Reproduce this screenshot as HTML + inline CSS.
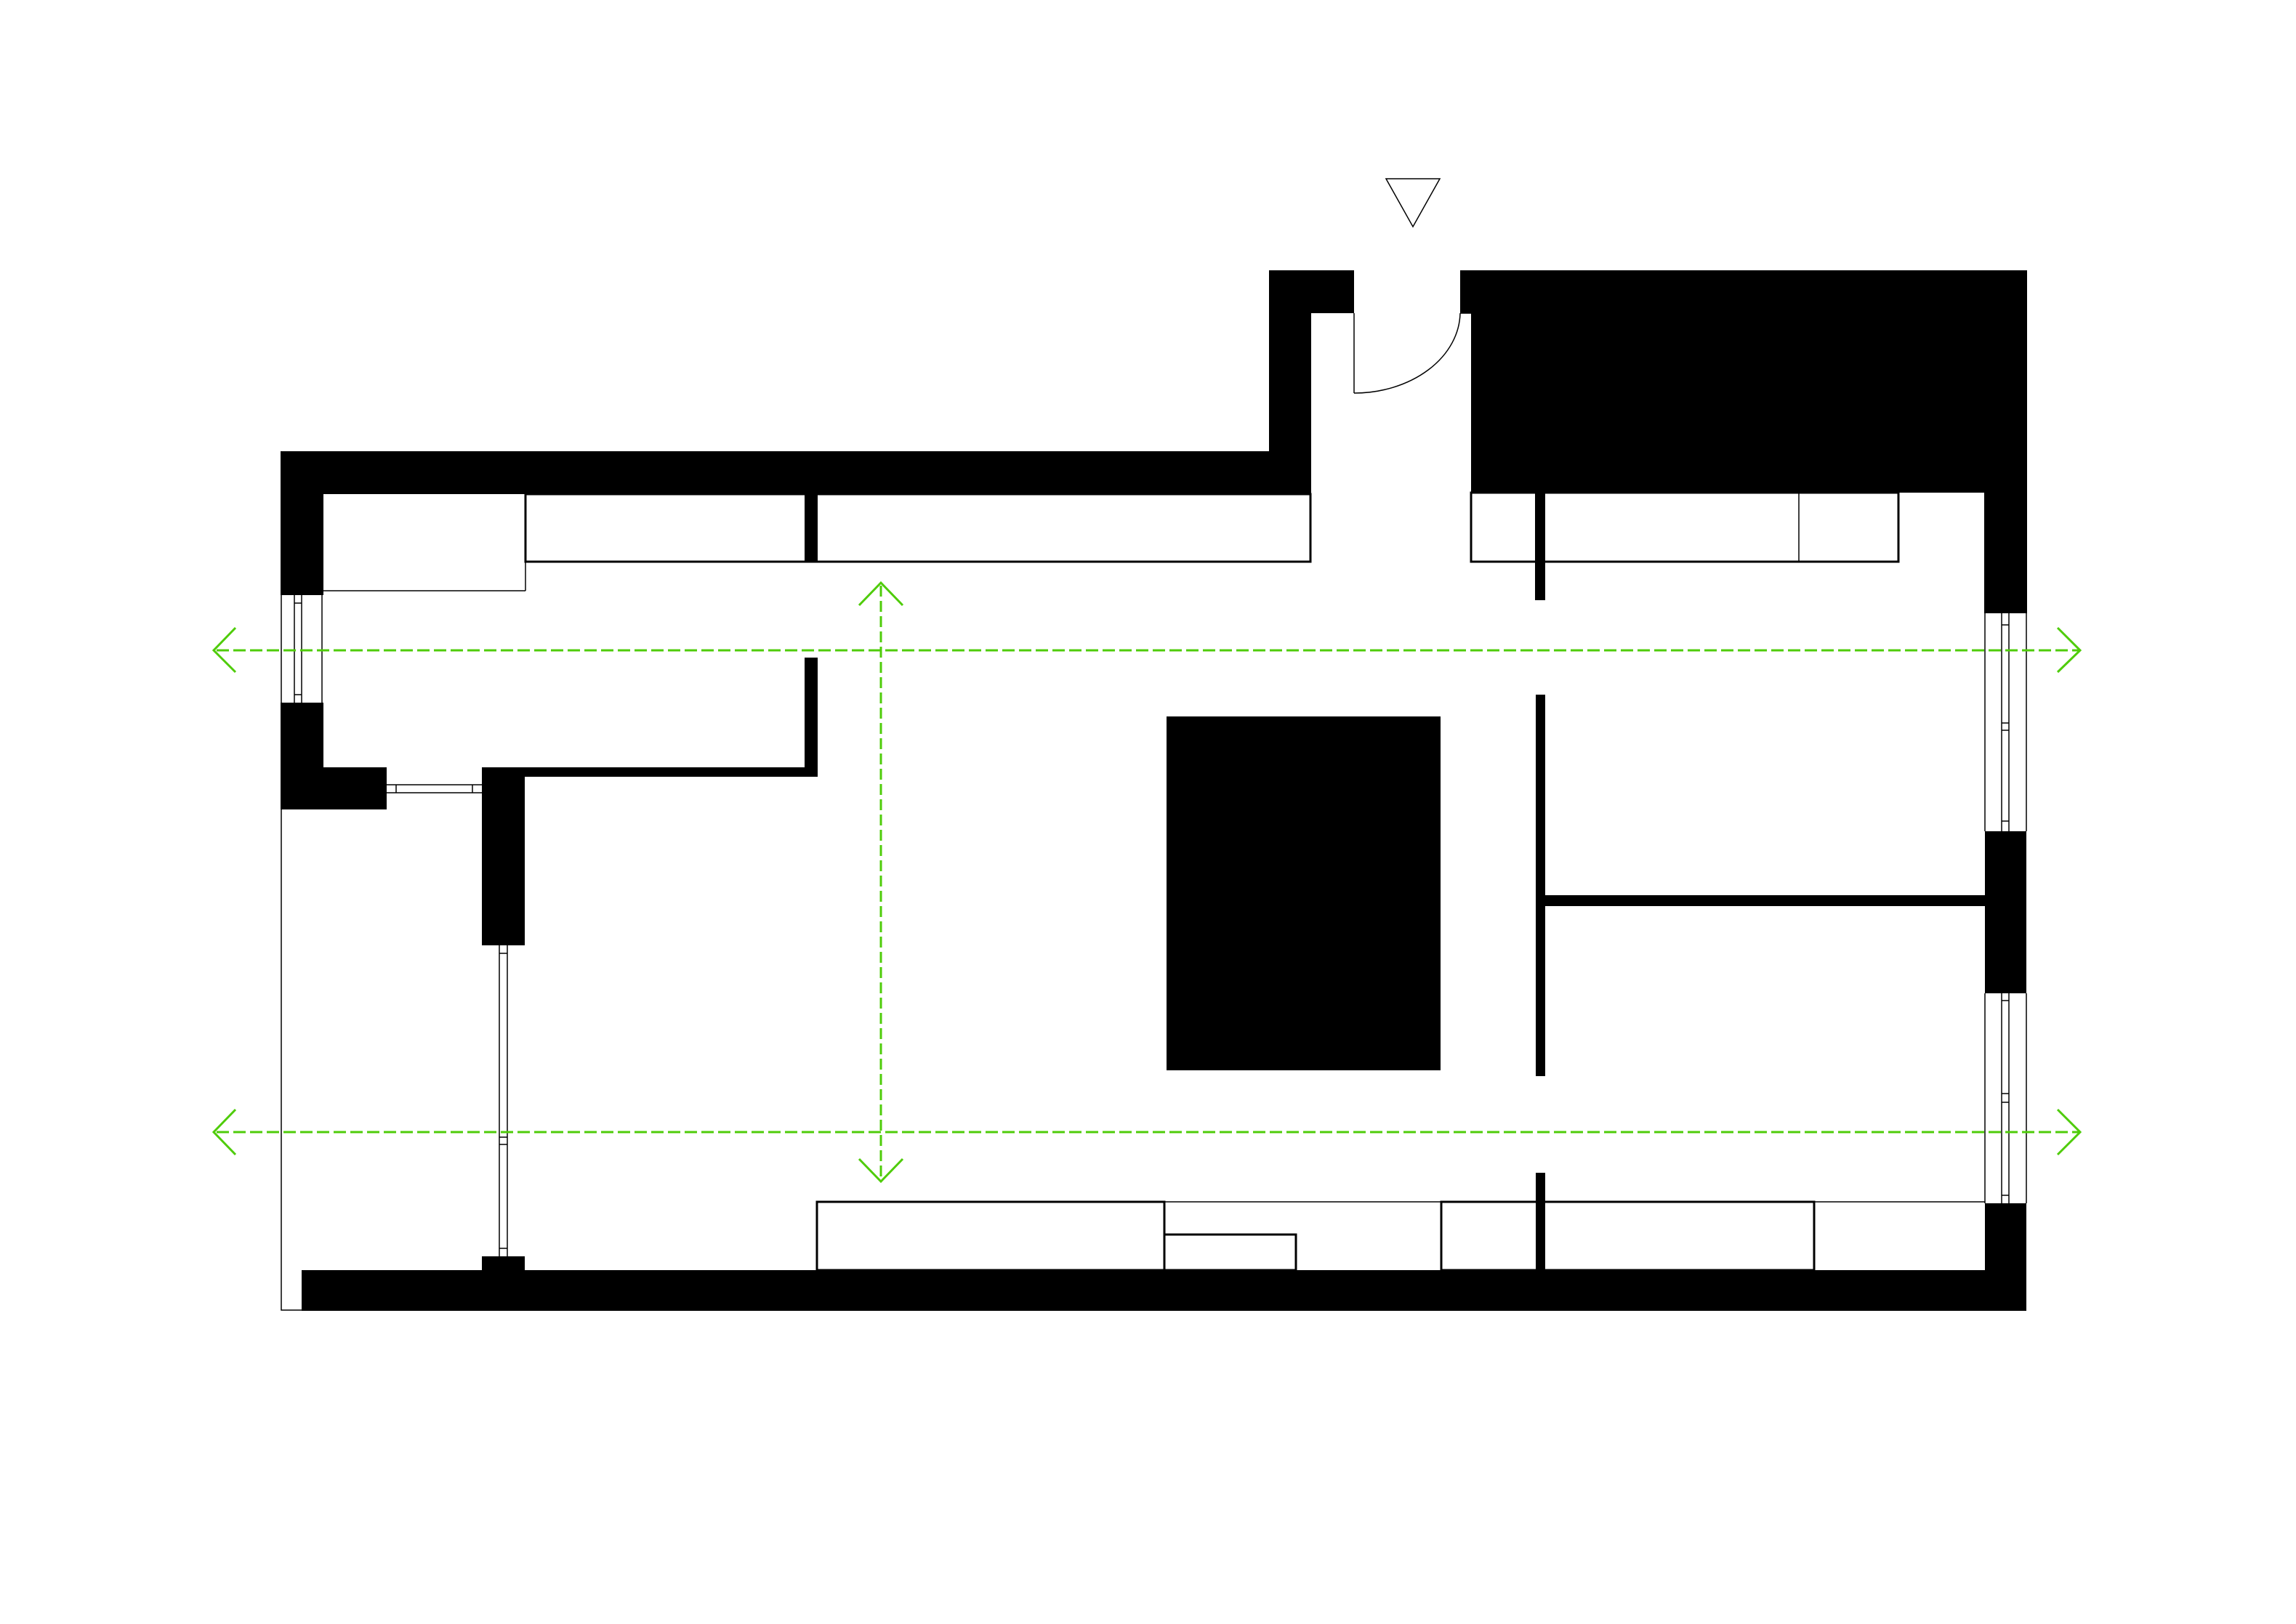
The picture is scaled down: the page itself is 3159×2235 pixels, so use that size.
<!DOCTYPE html>
<html><head><meta charset="utf-8"><style>
html,body{margin:0;padding:0;background:#fff;}
svg{display:block;}
</style></head><body>
<svg width="3159" height="2235" viewBox="0 0 3159 2235" xmlns="http://www.w3.org/2000/svg">
<rect width="3159" height="2235" fill="#fff"/>
<g fill="#000">
<!-- top wall left part -->
<rect x="386" y="621" width="1418" height="59"/>
<rect x="386" y="621" width="59" height="198"/>
<rect x="1746" y="372" width="58" height="308"/>
<rect x="1746" y="372" width="117" height="59"/>
<!-- left wall lower -->
<rect x="386" y="967" width="59" height="147"/>
<rect x="386" y="1056" width="146" height="58"/>
<!-- inner wall -->
<rect x="663" y="1056" width="59" height="245"/>
<rect x="663" y="1056" width="462" height="13"/>
<rect x="1107" y="905" width="18" height="164"/>
<rect x="1107" y="680" width="18" height="94"/>
<rect x="663" y="1729" width="59" height="25"/>
<!-- right top block -->
<rect x="2009" y="372" width="780" height="59"/>
<rect x="2024" y="372" width="765" height="306"/>
<rect x="2730" y="372" width="59" height="472"/>
<rect x="2731" y="1144" width="57" height="223"/>
<rect x="2731" y="1656" width="57" height="148"/>
<!-- bottom wall -->
<rect x="415" y="1748" width="2373" height="56"/>
<!-- central block -->
<rect x="1605" y="986" width="377" height="487"/>
<!-- partitions -->
<rect x="2112" y="678" width="14" height="148"/>
<rect x="2113" y="956" width="13" height="525"/>
<rect x="2126" y="1232" width="605" height="15"/>
<rect x="2113" y="1614" width="13" height="134"/>
</g>
<g fill="none" stroke="#000">
<!-- cabinets top -->
<rect x="723" y="680" width="1080" height="93" stroke-width="3"/>
<path d="M445 813 H723" stroke-width="1.5"/>
<path d="M723 680 V813" stroke-width="1.5"/>
<rect x="2024" y="678" width="588" height="95" stroke-width="3"/>
<path d="M2475 678 V773" stroke-width="1.5"/>
<!-- left window -->
<path d="M387 819 V967 M443 819 V967 M405 819 V967 M415 819 V967 M405 830 H415 M405 956 H415" stroke-width="1.5"/>
<!-- left outer thin line -->
<path d="M387 1114 V1803 H415" stroke-width="1.5"/>
<!-- horizontal window -->
<path d="M532 1080 H663 M532 1091 H663 M545 1080 V1091 M650 1080 V1091" stroke-width="1.5"/>
<!-- vertical window -->
<path d="M687 1301 V1729 M698 1301 V1729 M687 1312 H698 M687 1565 H698 M687 1575 H698 M687 1718 H698" stroke-width="1.5"/>
<!-- door -->
<path d="M1863 431 V541" stroke-width="1.5"/>
<path d="M1863 541 A146 112 0 0 0 2009 431" stroke-width="1.5"/>
<path d="M2009 431 H2024" stroke-width="1.5"/>
<!-- right windows -->
<path d="M2731 844 V1144 M2788 844 V1144 M2754 844 V1144 M2764 844 V1144 M2754 860 H2764 M2754 995 H2764 M2754 1005 H2764 M2754 1130 H2764" stroke-width="1.5"/>
<path d="M2731 1367 V1656 M2788 1367 V1656 M2754 1367 V1656 M2764 1367 V1656 M2754 1377 H2764 M2754 1505 H2764 M2754 1517 H2764 M2754 1645 H2764" stroke-width="1.5"/>
<!-- bottom cabinets -->
<rect x="1124" y="1654" width="478" height="94" stroke-width="3"/>
<path d="M1602 1654 H1983" stroke-width="1.5"/>
<rect x="1602" y="1699" width="181" height="49" stroke-width="3"/>
<rect x="1983" y="1654" width="513" height="94" stroke-width="3"/>
<path d="M2496 1654 H2731" stroke-width="1.5"/>
<!-- triangle -->
<path d="M1907 246 H1981 L1944 312 Z" stroke-width="1.5"/>
</g>
<g fill="none" stroke="#4fcc0a" stroke-width="3">
<path d="M298 895 H2860" stroke-dasharray="17 6"/>
<path d="M298 1558 H2860" stroke-dasharray="17 6"/>
<path d="M1212 806 V1622" stroke-dasharray="15 6"/>
<path d="M324 864 L294 895 L324 925"/>
<path d="M324 1527 L294 1558 L324 1589"/>
<path d="M2831 864 L2862 895 L2831 925"/>
<path d="M2831 1527 L2862 1558 L2831 1589"/>
<path d="M1182 833 L1212 802 L1242 833"/>
<path d="M1182 1595 L1212 1626 L1242 1595"/>
</g>
</svg>
</body></html>
